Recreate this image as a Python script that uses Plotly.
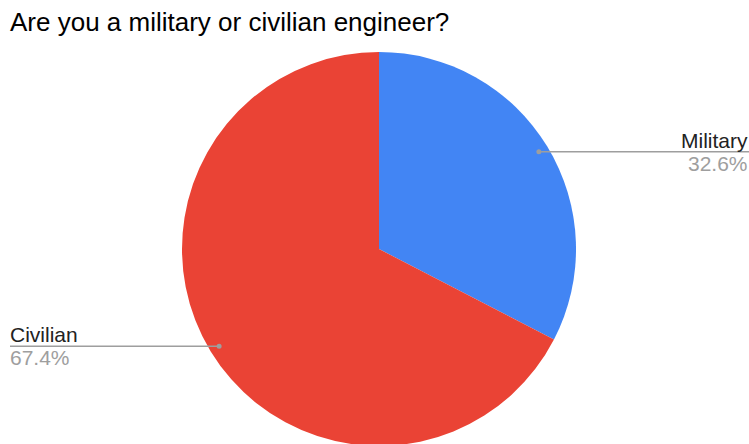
import math
import plotly.graph_objects as go

labels = ["Military", "Civilian"]
values = [32.6, 67.4]
colors = ["#4285F4", "#EA4335"]
title_text = "Are you a military or civilian engineer?"

W, H = 749, 448               # page shows 749x444; the pie bottom is cropped like the reference
cx, cy, r = 379.0, 249.0, 197.0  # pie centre / radius in px
dot_frac = 0.95

def px_to_paper(x, y):
    return x / W, 1 - y / H

fig = go.Figure()
fig.add_trace(go.Pie(
    labels=labels, values=values, sort=False, direction="clockwise", rotation=0,
    marker=dict(colors=colors, line=dict(width=0)),
    textinfo="none", hoverinfo="label+percent", showlegend=False,
    domain=dict(x=[(cx - r) / W, (cx + r) / W], y=[(H - (cy + r)) / H, (H - (cy - r)) / H]),
))

total = sum(values)
shapes, annotations = [], []
cum = 0.0
for lab, v in zip(labels, values):
    mid = (cum + v / 2) / total * 2 * math.pi
    cum += v
    dx = math.sin(mid) * r * dot_frac
    dy = -math.cos(mid) * r * dot_frac
    x_dot, y_dot = cx + dx, cy + dy
    pct = f"{v / total * 100:.1f}%"
    if dx >= 0:
        x_end, anchor, x_text = W, "right", W + 1
    else:
        x_end, anchor, x_text = 10, "left", 8
    px0, py0 = px_to_paper(x_dot, y_dot)
    px1, _ = px_to_paper(x_end, y_dot)
    shapes.append(dict(type="line", xref="paper", yref="paper", x0=px0, x1=px1, y0=py0, y1=py0,
                       line=dict(color="#9E9E9E", width=1.5)))
    rad = 2.5
    shapes.append(dict(type="circle", xref="paper", yref="paper",
                       x0=(x_dot - rad) / W, x1=(x_dot + rad) / W,
                       y0=1 - (y_dot + rad) / H, y1=1 - (y_dot - rad) / H,
                       fillcolor="#9E9E9E", line=dict(width=0)))
    tx, _ = px_to_paper(x_text, 0)
    annotations.append(dict(x=tx, y=py0, xref="paper", yref="paper", text=lab, showarrow=False,
                            xanchor=anchor, yanchor="bottom", yshift=-2,
                            font=dict(family="Liberation Sans, Arial", size=21, color="#222222")))
    annotations.append(dict(x=tx, y=py0, xref="paper", yref="paper", text=pct, showarrow=False,
                            xanchor=anchor, yanchor="top", yshift=2,
                            font=dict(family="Liberation Sans, Arial", size=21, color="#9E9E9E")))

fig.update_layout(
    width=W, height=H,
    margin=dict(l=0, r=0, t=0, b=0),
    paper_bgcolor="white", plot_bgcolor="white",
    title=dict(text=title_text, x=10 / W, xanchor="left", xref="container",
               y=1 - 13 / H, yanchor="top", yref="container",
               font=dict(family="Liberation Sans, Arial", size=26, color="#000000")),
    shapes=shapes, annotations=annotations,
)
fig.write_html("out.html", config={"displayModeBar": False},
               post_script="document.body.style.margin='0';document.body.style.overflow='hidden';")
